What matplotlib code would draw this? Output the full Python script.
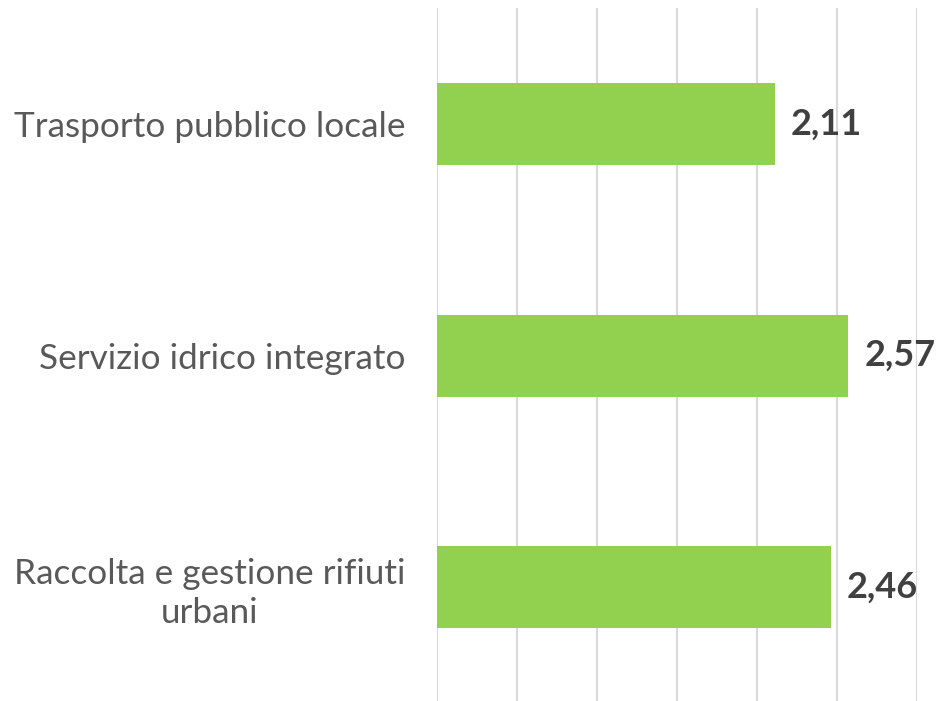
import matplotlib
matplotlib.use("Agg")
import matplotlib.pyplot as plt

categories = ["Trasporto pubblico locale", "Servizio idrico integrato", "Raccolta e gestione rifiuti\nurbani"]
values = [2.11, 2.57, 2.46]
value_labels = ["2,11", "2,57", "2,46"]

plt.rcParams['font.family'] = ['Lato', 'DejaVu Sans']

fig = plt.figure(figsize=(9.38, 7.01), dpi=100)
ax = fig.add_axes([437/938, 0, 480/938, (701-8)/701])

y = list(range(len(categories)))
ax.barh(y, values, height=0.354, color="#92D050", zorder=3)
ax.set_xlim(0, 3.0)
ax.set_ylim(2.49, -0.5)
ax.set_xticks([0, 0.5, 1.0, 1.5, 2.0, 2.5, 3.0])
ax.xaxis.grid(True, color="#D9D9D9", linewidth=1.5, zorder=0)
ax.tick_params(axis='x', length=0, labelbottom=False)
ax.tick_params(axis='y', length=0, pad=23)
ax.set_yticks(y)
ax.set_yticklabels(categories, fontsize=25.3, color="#595959")
for t in ax.get_yticklabels():
    t.set_multialignment('center')
    t.set_linespacing(1.25)
for s in ax.spines.values():
    s.set_visible(False)

for yi, v, lab in zip(y, values, value_labels):
    ax.annotate(lab, (v, yi), xytext=(16, 0), textcoords='offset pixels',
                ha='left', va='center', fontsize=26, fontweight='bold', color="#404040")

fig.savefig("out.png", dpi=100)
